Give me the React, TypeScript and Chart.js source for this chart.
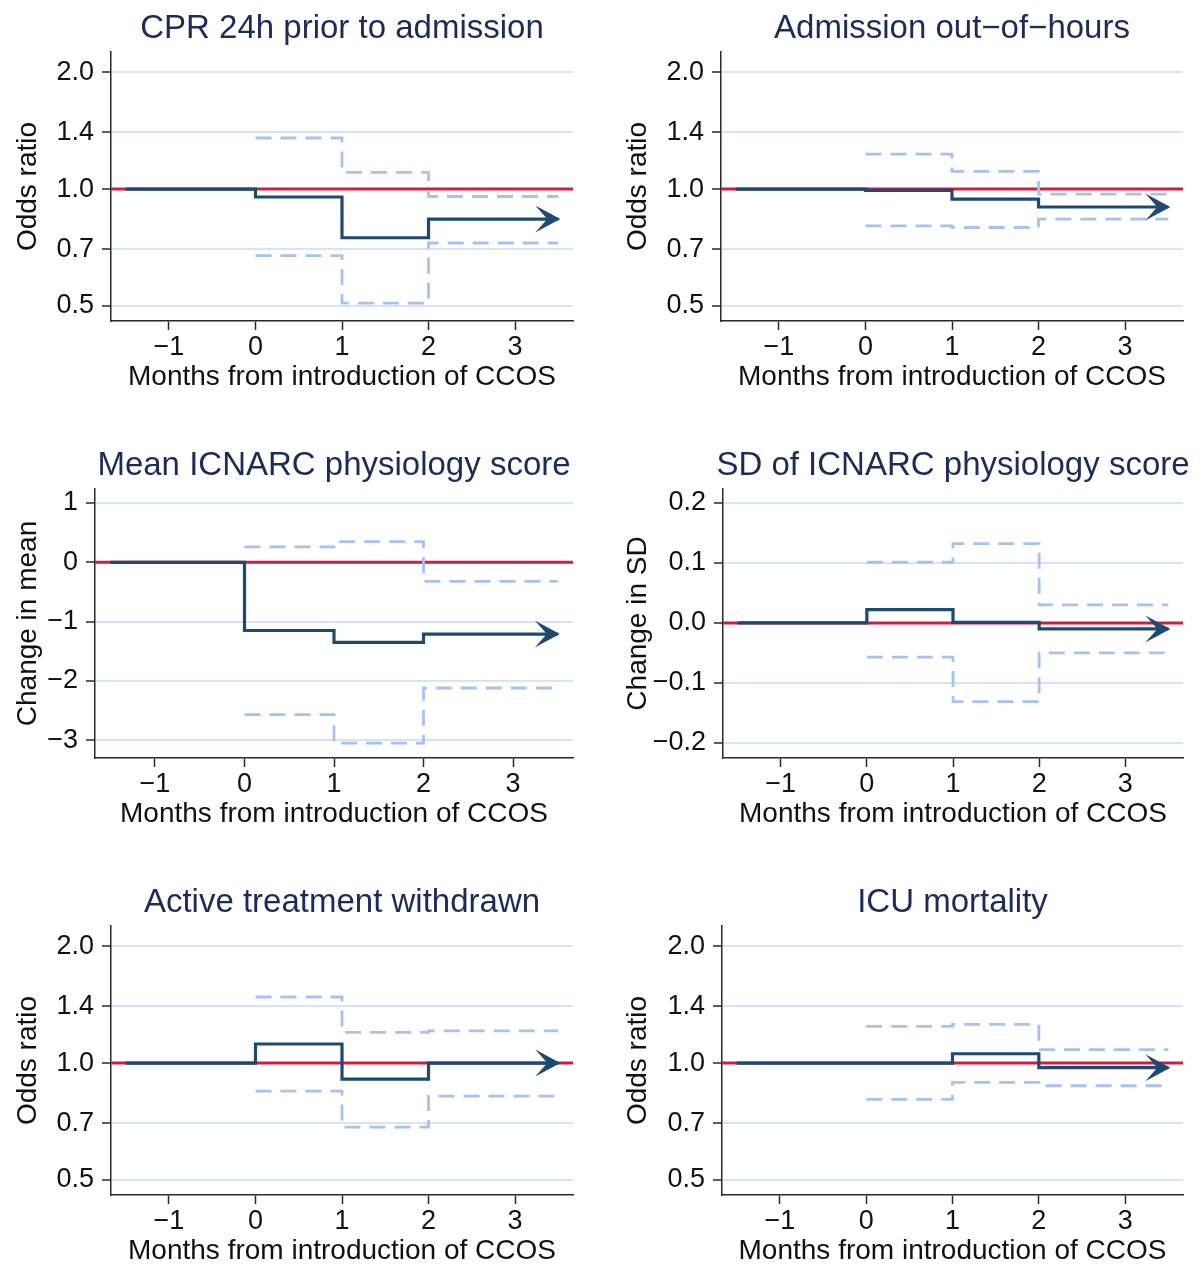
import React, { useEffect, useRef } from "react";
import { Chart, registerables } from "chart.js";
Chart.register(...registerables);

const FONT = '"Liberation Sans", Arial, Helvetica, sans-serif';

// ---- shared axis data ----
const X_TICKS = [-1, 0, 1, 2, 3];
const BASELINE_START = -1.5;
const PERIOD_STARTS = [0, 1, 2];
const LINE_END = 3.5;
const X_TITLE = "Months from introduction of CCOS";

const OR_TICKS = [0.5, 0.7, 1.0, 1.4, 2.0];
const MEAN_TICKS = [-3, -2, -1, 0, 1];
const SD_TICKS = [-0.2, -0.1, 0, 0.1, 0.2];

// ---- series (values for months 0, 1, 2+) ----
const cprEst = [0.954, 0.749, 0.837];
const cprLower = [0.674, 0.508, 0.726];
const cprUpper = [1.354, 1.104, 0.957];

const oohEst = [0.992, 0.942, 0.899];
const oohLower = [0.804, 0.796, 0.837];
const oohUpper = [1.231, 1.111, 0.971];

const meanEst = [-1.15, -1.35, -1.21];
const meanLower = [-2.57, -3.05, -2.12];
const meanUpper = [0.26, 0.35, -0.32];

const sdEst = [0.022, 0.001, -0.01];
const sdLower = [-0.057, -0.131, -0.05];
const sdUpper = [0.101, 0.132, 0.03];

const atwEst = [1.12, 0.909, 1.0];
const atwLower = [0.847, 0.684, 0.822];
const atwUpper = [1.48, 1.2, 1.21];

const icuEst = [1.0, 1.057, 0.973];
const icuLower = [0.806, 0.892, 0.874];
const icuUpper = [1.243, 1.258, 1.083];

// ---- styles ----
const TITLE_COLOR = "#1c2c58";
const EST_COLOR = "#1e4a72";
const REF_COLOR = "#cf1f40";
const CI_COLOR = "#a7c2ef";
const GRID_COLOR = "#d6e3f8";
const AXIS_COLOR = "#2a2a2a";
const TEXT_COLOR = "#111111";
const AXIS_FONT_SIZE = 27;
const TITLE_FONT_SIZE = 33;

const X_MIN = -1.67;
const X_MAX = 3.67;

type PanelCfg = {
  title: string;
  yTitle: string;
  log: boolean;
  yTicks: number[];
  yMin: number;
  yMax: number;
  decimals: number;
  ref: number;
  est: number[];
  lower: number[];
  upper: number[];
  col: number;
  row: number;
  left: number;
  right: number;
  yTitlePad: number;
};

const PANELS: PanelCfg[] = [
  { title: "CPR 24h prior to admission", yTitle: "Odds ratio", log: true, yTicks: OR_TICKS, yMin: 0.457, yMax: 2.256, decimals: 1, ref: 1, est: cprEst, lower: cprLower, upper: cprUpper, col: 0, row: 0, left: 111, right: 573, yTitlePad: 11 },
  { title: "Admission out\u2212of\u2212hours", yTitle: "Odds ratio", log: true, yTicks: OR_TICKS, yMin: 0.457, yMax: 2.256, decimals: 1, ref: 1, est: oohEst, lower: oohLower, upper: oohUpper, col: 1, row: 0, left: 121, right: 583, yTitlePad: 21 },
  { title: "Mean ICNARC physiology score", yTitle: "Change in mean", log: false, yTicks: MEAN_TICKS, yMin: -3.3, yMax: 1.236, decimals: 0, ref: 0, est: meanEst, lower: meanLower, upper: meanUpper, col: 0, row: 1, left: 95, right: 573, yTitlePad: 11 },
  { title: "SD of ICNARC physiology score", yTitle: "Change in SD", log: false, yTicks: SD_TICKS, yMin: -0.225, yMax: 0.223, decimals: 1, ref: 0, est: sdEst, lower: sdLower, upper: sdUpper, col: 1, row: 1, left: 123, right: 583, yTitlePad: 21 },
  { title: "Active treatment withdrawn", yTitle: "Odds ratio", log: true, yTicks: OR_TICKS, yMin: 0.457, yMax: 2.256, decimals: 1, ref: 1, est: atwEst, lower: atwLower, upper: atwUpper, col: 0, row: 2, left: 111, right: 573, yTitlePad: 11 },
  { title: "ICU mortality", yTitle: "Odds ratio", log: true, yTicks: OR_TICKS, yMin: 0.457, yMax: 2.256, decimals: 1, ref: 1, est: icuEst, lower: icuLower, upper: icuUpper, col: 1, row: 2, left: 122, right: 583, yTitlePad: 21 },
];

const CANVAS_W = 600;
const CANVAS_H = 437;
const PLOT_TOP = 52;
const PLOT_BOTTOM = 321;

function fmt(v: number, d: number): string {
  const r = Math.abs(v) < 1e-9 ? 0 : v;
  const s = Math.abs(r).toFixed(d);
  return r < 0 ? "\u2212" + s : s;
}

function stepData(xs: number[], ys: number[]) {
  return xs.map((x, i) => ({ x, y: ys[i] }));
}

const arrowPlugin = {
  id: "arrowHead",
  afterDatasetsDraw(chart: any) {
    const meta = chart.getDatasetMeta(0);
    const pts = meta.data;
    if (!pts || !pts.length) return;
    const p = pts[pts.length - 1];
    const ctx = chart.ctx;
    const x = p.x;
    const y = p.y;
    ctx.save();
    ctx.fillStyle = EST_COLOR;
    ctx.beginPath();
    ctx.moveTo(x + 2, y);
    ctx.lineTo(x - 23, y - 13.5);
    ctx.lineTo(x - 11, y);
    ctx.lineTo(x - 23, y + 13.5);
    ctx.closePath();
    ctx.fill();
    ctx.restore();
  },
};

const panelTitlePlugin = {
  id: "panelTitle",
  afterDraw(chart: any, _args: any, opts: any) {
    const ctx = chart.ctx;
    const ca = chart.chartArea;
    ctx.save();
    ctx.font = `${TITLE_FONT_SIZE}px ${FONT}`;
    ctx.fillStyle = TITLE_COLOR;
    ctx.textAlign = "center";
    ctx.textBaseline = "alphabetic";
    ctx.fillText(opts.text, (ca.left + ca.right) / 2, 37.8);
    ctx.restore();
  },
};

function Panel({ cfg }: { cfg: PanelCfg }) {
  const ref = useRef<HTMLCanvasElement | null>(null);
  useEffect(() => {
    if (!ref.current) return;
    const estX = [BASELINE_START, ...PERIOD_STARTS, LINE_END];
    const estY = [cfg.ref, ...cfg.est, cfg.est[cfg.est.length - 1]];
    const ciX = [...PERIOD_STARTS, LINE_END];
    const upY = [...cfg.upper, cfg.upper[cfg.upper.length - 1]];
    const loY = [...cfg.lower, cfg.lower[cfg.lower.length - 1]];

    const chart = new Chart(ref.current, {
      type: "line",
      data: {
        datasets: [
          {
            label: "estimate",
            data: stepData(estX, estY),
            borderColor: EST_COLOR,
            borderWidth: 3.2,
            stepped: "before",
            pointRadius: 0,
            borderJoinStyle: "miter",
            fill: false,
          },
          {
            label: "upper",
            data: stepData(ciX, upY),
            borderColor: CI_COLOR,
            borderWidth: 2.8,
            borderDash: [16, 9],
            stepped: "before",
            pointRadius: 0,
            fill: false,
          },
          {
            label: "lower",
            data: stepData(ciX, loY),
            borderColor: CI_COLOR,
            borderWidth: 2.8,
            borderDash: [16, 9],
            stepped: "before",
            pointRadius: 0,
            fill: false,
          },
          {
            label: "reference",
            data: [
              { x: X_MIN, y: cfg.ref },
              { x: X_MAX, y: cfg.ref },
            ],
            borderColor: REF_COLOR,
            borderWidth: 3,
            pointRadius: 0,
            fill: false,
          },
        ],
      } as any,
      options: {
        responsive: false,
        animation: false,
        devicePixelRatio: 1,
        layout: {
          padding: { left: 0, right: CANVAS_W - cfg.right, top: PLOT_TOP, bottom: 0 },
        },
        plugins: {
          legend: { display: false },
          tooltip: { enabled: false },
          title: { display: false },
          panelTitle: { text: cfg.title },
        } as any,
        scales: {
          x: {
            type: "linear",
            min: X_MIN,
            max: X_MAX,
            afterBuildTicks: (s: any) => {
              s.ticks = X_TICKS.map((v) => ({ value: v }));
            },
            afterFit: (s: any) => {
              s.height = CANVAS_H - PLOT_BOTTOM;
            },
            grid: {
              drawOnChartArea: false,
              drawTicks: true,
              tickLength: 9,
              tickColor: AXIS_COLOR,
              tickWidth: 1.5,
              color: AXIS_COLOR,
            },
            border: { display: true, color: AXIS_COLOR, width: 1.5 },
            ticks: {
              autoSkip: false,
              maxRotation: 0,
              padding: 1,
              color: TEXT_COLOR,
              font: { size: AXIS_FONT_SIZE, family: FONT },
              callback: (v: any) => fmt(Number(v), 0),
            },
            title: {
              display: true,
              text: X_TITLE,
              color: TEXT_COLOR,
              font: { size: AXIS_FONT_SIZE + 1, family: FONT },
              padding: { top: 0, bottom: 42.5 },
            },
          },
          y: {
            type: cfg.log ? "logarithmic" : "linear",
            min: cfg.yMin,
            max: cfg.yMax,
            afterBuildTicks: (s: any) => {
              s.ticks = cfg.yTicks.map((v) => ({ value: v }));
            },
            afterFit: (s: any) => {
              s.width = cfg.left;
            },
            grid: {
              drawOnChartArea: true,
              drawTicks: true,
              tickLength: 9,
              tickColor: AXIS_COLOR,
              tickWidth: 1.5,
              color: GRID_COLOR,
              lineWidth: 2,
            },
            border: { display: true, color: AXIS_COLOR, width: 1.5 },
            ticks: {
              autoSkip: false,
              padding: 8,
              color: TEXT_COLOR,
              font: { size: AXIS_FONT_SIZE, family: FONT },
              callback: (v: any) => fmt(Number(v), cfg.decimals),
            },
            title: {
              display: true,
              text: cfg.yTitle,
              color: TEXT_COLOR,
              font: { size: AXIS_FONT_SIZE + 1, family: FONT },
              padding: { top: cfg.yTitlePad, bottom: 0 },
            },
          },
        } as any,
      },
      plugins: [arrowPlugin, panelTitlePlugin],
    } as any);
    return () => chart.destroy();
  }, [cfg]);

  return (
    <canvas
      ref={ref}
      width={CANVAS_W}
      height={CANVAS_H}
      style={{
        position: "absolute",
        left: cfg.col * CANVAS_W,
        top: cfg.row * CANVAS_H,
        width: CANVAS_W,
        height: CANVAS_H,
      }}
    />
  );
}

export default function App() {
  return (
    <div
      style={{
        position: "absolute",
        left: 0,
        top: 0,
        width: 1200,
        height: 1276,
        overflow: "hidden",
        background: "#ffffff",
      }}
    >
      {PANELS.map((p, i) => (
        <Panel key={i} cfg={p} />
      ))}
    </div>
  );
}
